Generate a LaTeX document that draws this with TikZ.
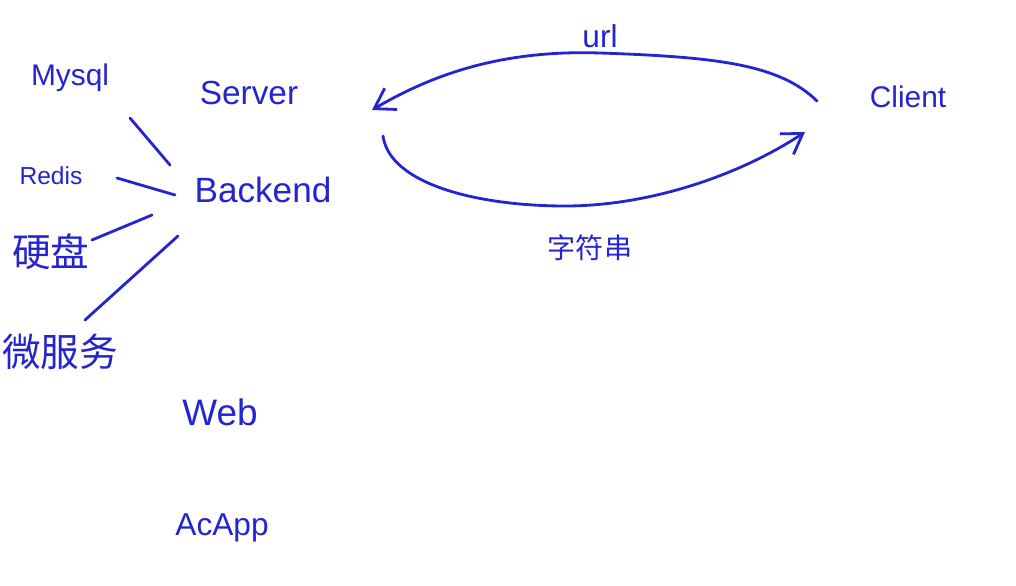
\documentclass[tikz,border=0pt]{standalone}
\usepackage{fontspec}
\setmainfont{Liberation Sans}
\newfontfamily\cjk{Noto Sans CJK SC}
\usetikzlibrary{arrows.meta, positioning, calc}
\definecolor{cink}{HTML}{2424D0}
\tikzset{
  every picture/.style={line width=1.6pt},
  word/.style={text=cink, inner sep=2pt, font=\fontsize{#1}{#1}\selectfont},
  word/.default=16pt,
  cn/.style={text=cink, inner sep=2pt, font=\cjk\fontsize{#1}{#1}\selectfont},
  cn/.default=16pt,
  link/.style={draw=cink, line cap=round},
  arrow/.style={link, -{Straight Barb[length=11pt, width=14pt]}},
}

\begin{document}
\begin{tikzpicture}[x=0.02cm, y=-0.02cm]
  \useasboundingbox (0,0) rectangle (1016,585);
  % backend side
  \node[word=20pt] (backend) at (263,190) {Backend};
  \node[word=19pt] (server) at (249,93) {Server};
  \node[word=17pt] (mysql) at (70,78) {Mysql};
  \node[word=14pt] (redis) at (51,176) {Redis};
  \node[cn=22pt] (disk) at (51,252) {硬盘};
  \node[cn=22pt] (micro) at (60,352) {微服务};
  \node[word=21pt] (web) at (220,412) {Web};
  \node[word=18pt] (acapp) at (222,528) {AcApp};
  \draw[link] ($(mysql)+(60,40)$) -- ($(backend)+(-93,-25)$);
  \draw[link] ($(redis)+(66,2)$) -- ($(backend)+(-88,5)$);
  \draw[link] ($(disk)+(41,-12)$) -- ($(backend)+(-111,25)$);
  \draw[link] ($(micro)+(25,-32)$) -- ($(backend)+(-85,46)$);
  % client side
  \node[word=17pt] (client) at (908,97) {Client};
  \node[word=18pt] (url) at (600,36) {url};
  \node[cn=16pt] (str) at (590,248) {字符串};
  \draw[arrow] ($(client)+(-91,4)$) .. controls (780,65) and (720,57) .. (600,53)
    .. controls (510,50) and (440,70) .. ($(server)+(123,17)$);
  \draw[arrow] ($(server)+(134,43)$) .. controls (390,185) and (480,206) .. (565,206)
    .. controls (650,206) and (740,175) .. ($(client)+(-103,35)$);
\end{tikzpicture}
\end{document}
